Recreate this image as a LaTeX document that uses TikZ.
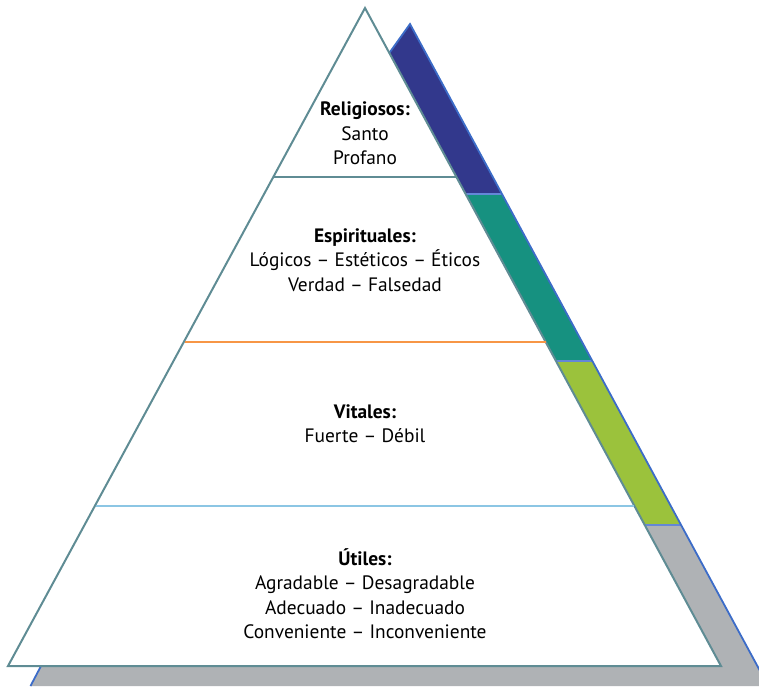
\documentclass[tikz,border=0pt]{standalone}
\usepackage{fontspec}
\setmainfont{PT Sans}
\definecolor{tristroke}{RGB}{95,140,148}
\definecolor{orangeline}{RGB}{247,150,70}
\definecolor{lblueline}{RGB}{140,198,228}
\definecolor{bandblue}{RGB}{50,56,140}
\definecolor{bandteal}{RGB}{22,145,128}
\definecolor{bandgreen}{RGB}{155,194,60}
\definecolor{bandgrey}{RGB}{175,178,181}
\definecolor{edgeblue}{RGB}{60,108,200}
\definecolor{sepblue}{RGB}{100,135,215}
\begin{document}
\begin{tikzpicture}[x=1pt,y=-1pt,
  lbl/.style={align=center,font=\fontsize{19.4}{24.5}\selectfont,inner sep=0pt},
  edge/.style={draw=edgeblue,line width=1.8pt},
  sep/.style={draw=sepblue,line width=2.5pt},
  tri/.style={draw=tristroke,line width=2pt,fill=white,line join=miter},
  layer/.style={line width=1.5pt}]
\useasboundingbox (0,0) rectangle (759,686);
\begin{scope}
\clip (0,0) rectangle (759,686);
% side band faces
\fill[bandblue] (389.3,53) -- (410,24) -- (502.0,194) -- (465.6,194) -- cycle;
\fill[bandteal] (465.6,194) -- (502.0,194) -- (592.3,361) -- (556.0,361) -- cycle;
\fill[bandgreen] (556.0,361) -- (592.3,361) -- (680.7,525) -- (644.7,525) -- cycle;
\fill[bandgrey] (644.7,525) -- (680.7,525) -- (768.2,686) -- (30.5,686) -- (41,666) -- (721,666) -- cycle;
% separators and edges
\draw[sep] (465.6,194) -- (502.0,194);
\draw[sep] (556.0,361) -- (592.3,361);
\draw[sep] (644.7,525) -- (680.7,525);
\draw[edge] (389.3,53) -- (410,24) -- (768.2,686);
\draw[edge] (41,666) -- (30.5,686);
\end{scope}
% pyramid
\coordinate (apex) at (365,8);
\coordinate (bl) at (8,666);
\coordinate (br) at (721,666);
\draw[tri] (apex) -- (bl) -- (br) -- cycle;
% layer lines
\draw[layer,draw=tristroke] (274.3,177) -- (456.4,177);
\draw[layer,draw=orangeline] (184.8,342) -- (545.7,342);
\draw[layer,draw=lblueline] (95.8,506) -- (634.4,506);
% labels
\node[lbl] (rel) at (365,133.5) {\textbf{Religiosos:}\\Santo\\Profano};
\node[lbl] (esp) at (365,260) {\textbf{Espirituales:}\\Lógicos – Estéticos – Éticos\\Verdad – Falsedad};
\node[lbl] (vit) at (365,423.5) {\textbf{Vitales:}\\Fuerte – Débil};
\node[lbl] (uti) at (365,593.5) {\textbf{Útiles:}\\Agradable – Desagradable\\Adecuado – Inadecuado\\Conveniente – Inconveniente};
\end{tikzpicture}
\end{document}
